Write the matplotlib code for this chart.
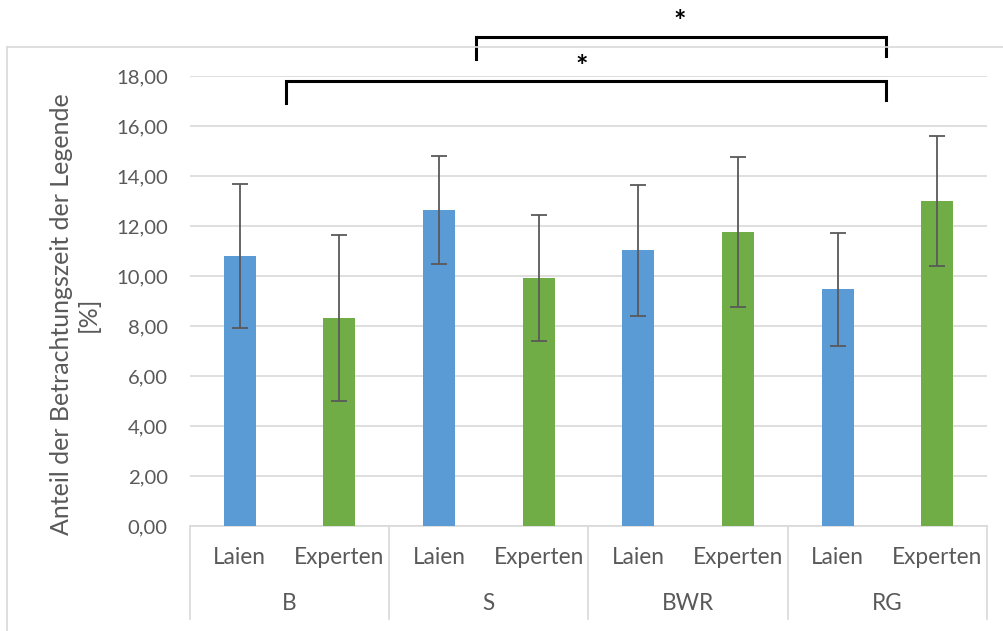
import numpy as np
import matplotlib
matplotlib.use("Agg")
import matplotlib.pyplot as plt
from matplotlib.lines import Line2D

plt.rcParams['font.family'] = ['Lato', 'DejaVu Sans']

# Mittelwerte und Standardabweichungen je Darstellung und Gruppe
darstellungen = ['B', 'S', 'BWR', 'RG']
gruppen = ['Laien', 'Experten']
laien_mw = [10.79, 12.64, 11.02, 9.46]
laien_sd = [2.88, 2.17, 2.61, 2.26]
experten_mw = [8.32, 9.92, 11.76, 13.00]
experten_sd = [3.32, 2.50, 3.01, 2.60]

yticks = [0, 2, 4, 6, 8, 10, 12, 14, 16, 18]

blau = '#5b9bd5'
gruen = '#70ad47'
grau_text = '#595959'
grau_linie = '#d9d9d9'

fig = plt.figure(figsize=(10.04, 6.31), dpi=100)
ax = fig.add_axes([190 / 1004, 105 / 631, 797 / 1004, 450 / 631])

n = len(darstellungen)
x_laien = np.arange(n) * 2
x_exp = np.arange(n) * 2 + 1
breite = 0.32
fehler = dict(ecolor=grau_text, elinewidth=1.3, capsize=6, capthick=1.3)

ax.bar(x_laien, laien_mw, breite, color=blau, yerr=laien_sd, error_kw=fehler, zorder=3)
ax.bar(x_exp, experten_mw, breite, color=gruen, yerr=experten_sd, error_kw=fehler, zorder=3)

ax.set_xlim(-0.5, 2 * n - 0.5)
ax.set_ylim(0, 18)
ax.set_yticks(yticks)
ax.set_yticklabels([f'{v:.2f}'.replace('.', ',') for v in yticks])
ax.tick_params(axis='y', length=0, pad=16, labelsize=14.6, labelcolor=grau_text)
ax.set_xticks([])
ax.grid(axis='y', color=grau_linie, linewidth=1.2, zorder=0)
for s in ['left', 'right', 'top']:
    ax.spines[s].set_visible(False)
ax.spines['bottom'].set_color(grau_linie)
ax.spines['bottom'].set_linewidth(1.2)

ax.set_ylabel('Anteil der Betrachtungszeit der Legende\n[%]', fontsize=18,
              color=grau_text)
ax.yaxis.set_label_coords(-0.113, 0.47)

# zweistufige Kategorienachse
trans = ax.get_xaxis_transform()
for i in range(n + 1):
    ax.add_line(Line2D([2 * i - 0.5] * 2, [0, -0.207], transform=trans,
                       color=grau_linie, linewidth=1.2, clip_on=False))
for i, d in enumerate(darstellungen):
    ax.text(x_laien[i], -0.069, gruppen[0], transform=trans, ha='center', va='center',
            fontsize=16.3, color=grau_text)
    ax.text(x_exp[i], -0.069, gruppen[1], transform=trans, ha='center', va='center',
            fontsize=16.3, color=grau_text)
    ax.text(2 * i + 0.5, -0.173, d, transform=trans, ha='center', va='center',
            fontsize=16.3, color=grau_text)

# Signifikanzklammern
klammern = [
    (0.46, 6.49, 17.8, 16.92, 17.04, 3.43, 18.35),
    (2.37, 6.49, 19.56, 18.68, 18.8, 4.42, 20.15),
]
for x1, x2, y, y1, y2, xs, ys in klammern:
    ax.plot([x1, x1, x2, x2], [y1, y, y, y2], color='black', linewidth=2.2,
            clip_on=False, solid_joinstyle='miter', zorder=4)
    ax.text(xs, ys, '*', ha='center', va='center', fontsize=21, fontweight='bold',
            color='black', clip_on=False)

# Rahmen des Diagrammbereichs
fig.add_artist(Line2D([7 / 1004, 7 / 1004], [0, 1 - 47 / 631], color=grau_linie, linewidth=1.2))
fig.add_artist(Line2D([7 / 1004, 1], [1 - 47 / 631] * 2, color=grau_linie, linewidth=1.2))

fig.savefig('out.png', dpi=100)
